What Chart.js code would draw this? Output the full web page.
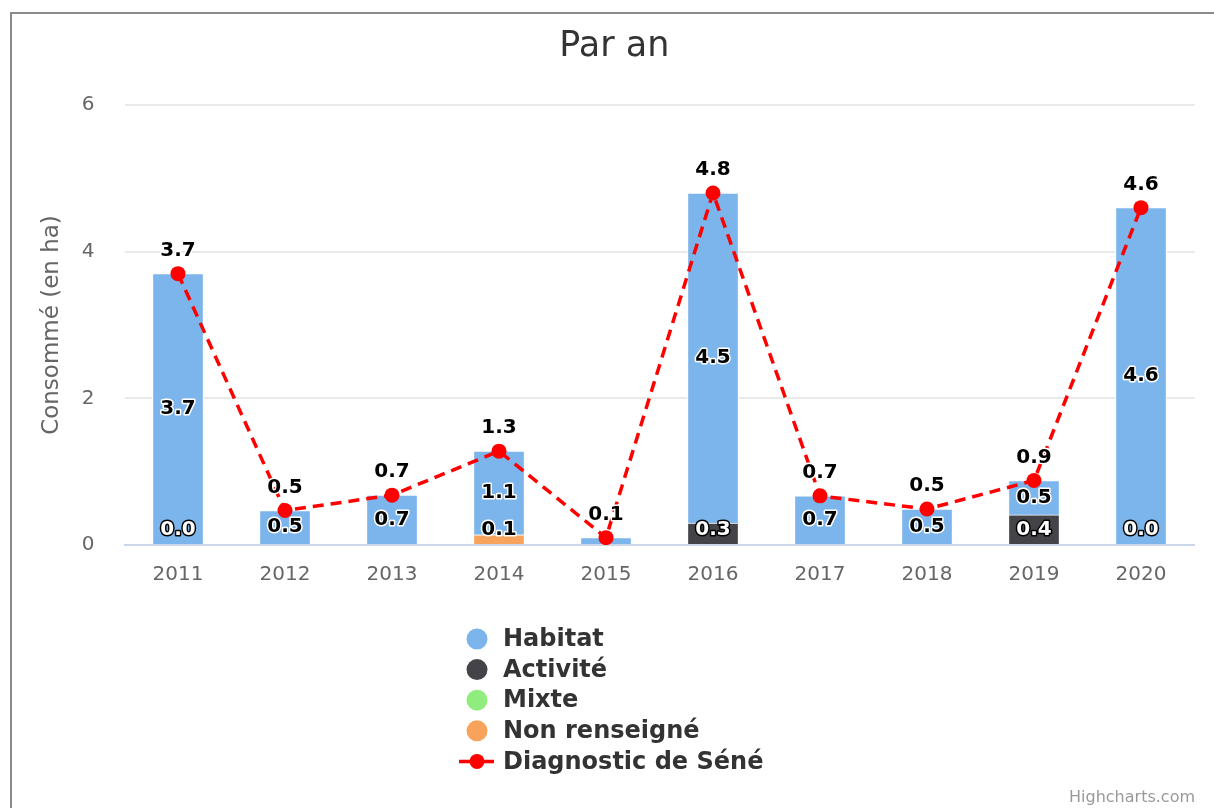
<!DOCTYPE html>
<html lang="fr">
<head>
<meta charset="utf-8">
<title>Par an</title>
<script src="https://cdn.jsdelivr.net/npm/chart.js@4.4.1/dist/chart.umd.min.js"></script>
<style>
  html, body { margin: 0; padding: 0; background: #ffffff; }
  #wrap { position: relative; width: 1214px; height: 808px; overflow: hidden; }
  #frame { position: absolute; left: 10px; top: 12px; width: 1300px; height: 900px;
           border-left: 2px solid #8a8a8a; border-top: 2px solid #8a8a8a; box-sizing: border-box; }
  #chart { position: absolute; left: 0; top: 0; }
</style>
</head>
<body>
<div id="wrap">
  <div id="frame"></div>
  <canvas id="chart" width="1214" height="808"></canvas>
</div>
<script>
// Consommation d'espace par année (en ha)
const years        = ['2011', '2012', '2013', '2014', '2015', '2016', '2017', '2018', '2019', '2020'];
const habitat      = [3.7, 0.47, 0.68, 1.14, 0.1, 4.5, 0.67, 0.49, 0.47, 4.6];
const activite     = [0, null, null, null, null, 0.3, null, null, 0.41, 0];
const mixte        = [null, null, null, null, null, null, null, null, null, null];
const nonRenseigne = [null, null, null, 0.14, null, null, null, null, null, null];
const diagnostic   = [3.7, 0.47, 0.68, 1.28, 0.1, 4.8, 0.67, 0.49, 0.88, 4.6];
const yTicks       = [0, 2, 4, 6];

const FONT = '"DejaVu Sans", Verdana, sans-serif';
const COLORS = {
  habitat: '#7cb5ec',
  activite: '#434348',
  mixte: '#90ed7d',
  nonRenseigne: '#f7a35c',
  diagnostic: '#ff0000'
};

// Legend entries, top to bottom
const legendItems = [
  { label: 'Habitat', color: COLORS.habitat, kind: 'dot' },
  { label: 'Activité', color: COLORS.activite, kind: 'dot' },
  { label: 'Mixte', color: COLORS.mixte, kind: 'dot' },
  { label: 'Non renseigné', color: COLORS.nonRenseigne, kind: 'dot' },
  { label: 'Diagnostic de Séné', color: COLORS.diagnostic, kind: 'line' }
];

function outlinedText(ctx, text, x, y, fill, stroke) {
  ctx.lineJoin = 'round';
  ctx.lineWidth = 3;
  ctx.strokeStyle = stroke;
  ctx.strokeText(text, x, y);
  ctx.fillStyle = fill;
  ctx.fillText(text, x, y);
}

// Value labels: line labels first (above markers), then bar labels
// centred in their segment, skipping any that would collide.
const valueLabels = {
  id: 'valueLabels',
  afterDatasetsDraw(chart) {
    const ctx = chart.ctx;
    const area = chart.chartArea;
    const placed = [];
    const overlaps = (b) => placed.some(p =>
      b.x1 < p.x2 && b.x2 > p.x1 && b.y1 < p.y2 && b.y2 > p.y1);
    ctx.save();
    ctx.font = 'bold 20px ' + FONT;
    ctx.textAlign = 'center';
    ctx.textBaseline = 'middle';

    const jobs = [];
    chart.data.datasets.forEach((ds, di) => {
      const meta = chart.getDatasetMeta(di);
      if (meta.hidden) return;
      meta.data.forEach((el, i) => {
        const v = ds.data[i];
        if (v === null || v === undefined) return;
        const text = v.toFixed(1);
        if (ds.type === 'line') {
          jobs.push({ pri: 0, text, x: el.x, y: el.y - 23, fill: '#000000', stroke: '#ffffff' });
        } else {
          let cy = (el.y + el.base) / 2;
          cy = Math.min(cy, area.bottom - 15);
          const dark = ds.backgroundColor === COLORS.activite;
          jobs.push({ pri: 1, text, x: el.x, y: cy,
                      fill: dark ? '#ffffff' : '#000000', stroke: dark ? '#000000' : '#ffffff' });
        }
      });
    });
    jobs.sort((a, b) => a.pri - b.pri);
    jobs.forEach(j => {
      const w = ctx.measureText(j.text).width;
      const box = { x1: j.x - w / 2 - 3, x2: j.x + w / 2 + 3, y1: j.y - 11, y2: j.y + 11 };
      if (overlaps(box)) return;
      placed.push(box);
      outlinedText(ctx, j.text, j.x, j.y, j.fill, j.stroke);
    });
    ctx.restore();
  }
};

// Vertical legend below the plot plus the credit line
const sideLegend = {
  id: 'sideLegend',
  afterDraw(chart) {
    const ctx = chart.ctx;
    ctx.save();
    const symX = 477, textX = 503, startY = 639, step = 30.6;
    ctx.font = 'bold 24px ' + FONT;
    ctx.textAlign = 'left';
    ctx.textBaseline = 'middle';
    legendItems.forEach((it, i) => {
      const y = startY + i * step;
      if (it.kind === 'dot') {
        ctx.beginPath();
        ctx.arc(symX, y, 10.5, 0, Math.PI * 2);
        ctx.fillStyle = it.color;
        ctx.fill();
      } else {
        ctx.beginPath();
        ctx.moveTo(459, y);
        ctx.lineTo(494, y);
        ctx.lineWidth = 3.5;
        ctx.strokeStyle = it.color;
        ctx.stroke();
        ctx.beginPath();
        ctx.arc(symX, y, 7.5, 0, Math.PI * 2);
        ctx.fillStyle = it.color;
        ctx.fill();
      }
      ctx.fillStyle = '#333333';
      ctx.fillText(it.label, textX, y + 1);
    });
    ctx.font = '16px ' + FONT;
    ctx.textAlign = 'right';
    ctx.fillStyle = '#999999';
    ctx.fillText('Highcharts.com', 1195, 798);
    ctx.restore();
  }
};

function barSet(label, data, color) {
  return {
    type: 'bar', label, data, stack: 'conso',
    backgroundColor: color, borderColor: '#ffffff', borderWidth: 1,
    barThickness: 51
  };
}

const ctx = document.getElementById('chart').getContext('2d');
new Chart(ctx, {
  data: {
    labels: years,
    // bars stack upward in dataset order: Non renseigné, Mixte, Activité, Habitat
    datasets: [
      {
        type: 'line', label: 'Diagnostic de Séné', data: diagnostic, stack: 'diag',
        borderColor: COLORS.diagnostic, backgroundColor: COLORS.diagnostic,
        borderWidth: 3.5, borderDash: [11, 7], pointRadius: 7.5, pointHoverRadius: 7.5,
        pointBackgroundColor: COLORS.diagnostic, pointBorderWidth: 0, tension: 0, fill: false
      },
      barSet('Non renseigné', nonRenseigne, COLORS.nonRenseigne),
      barSet('Mixte', mixte, COLORS.mixte),
      barSet('Activité', activite, COLORS.activite),
      barSet('Habitat', habitat, COLORS.habitat)
    ]
  },
  options: {
    responsive: false,
    animation: false,
    devicePixelRatio: 1,
    layout: { padding: { left: 34, right: 19.5, top: 0, bottom: 213 } },
    plugins: {
      legend: { display: false },
      tooltip: { enabled: false },
      title: {
        display: true, text: 'Par an', color: '#333333',
        font: { family: FONT, size: 35, weight: 'normal' },
        padding: { top: 26, bottom: 37 }
      }
    },
    scales: {
      x: {
        stacked: true,
        offset: true,
        grid: { display: false, drawTicks: false },
        border: { display: true, color: '#ccd6eb', width: 2 },
        ticks: { color: '#666666', font: { family: FONT, size: 20 }, padding: 18, maxRotation: 0 },
        afterFit(scale) { scale.height = 50; }
      },
      y: {
        stacked: true,
        min: 0, max: 6,
        afterBuildTicks(scale) { scale.ticks = yTicks.map(v => ({ value: v })); },
        grid: { color: '#e9e9e9', lineWidth: 2, drawTicks: false },
        border: { display: false },
        ticks: { color: '#666666', font: { family: FONT, size: 20 }, padding: 30 },
        title: {
          display: true, text: 'Consommé (en ha)', color: '#666666',
          font: { family: FONT, size: 23 }, padding: { top: 4, bottom: 4 }
        },
        afterFit(scale) { scale.width = 90.5; }
      }
    }
  },
  plugins: [valueLabels, sideLegend]
});
</script>
</body>
</html>
